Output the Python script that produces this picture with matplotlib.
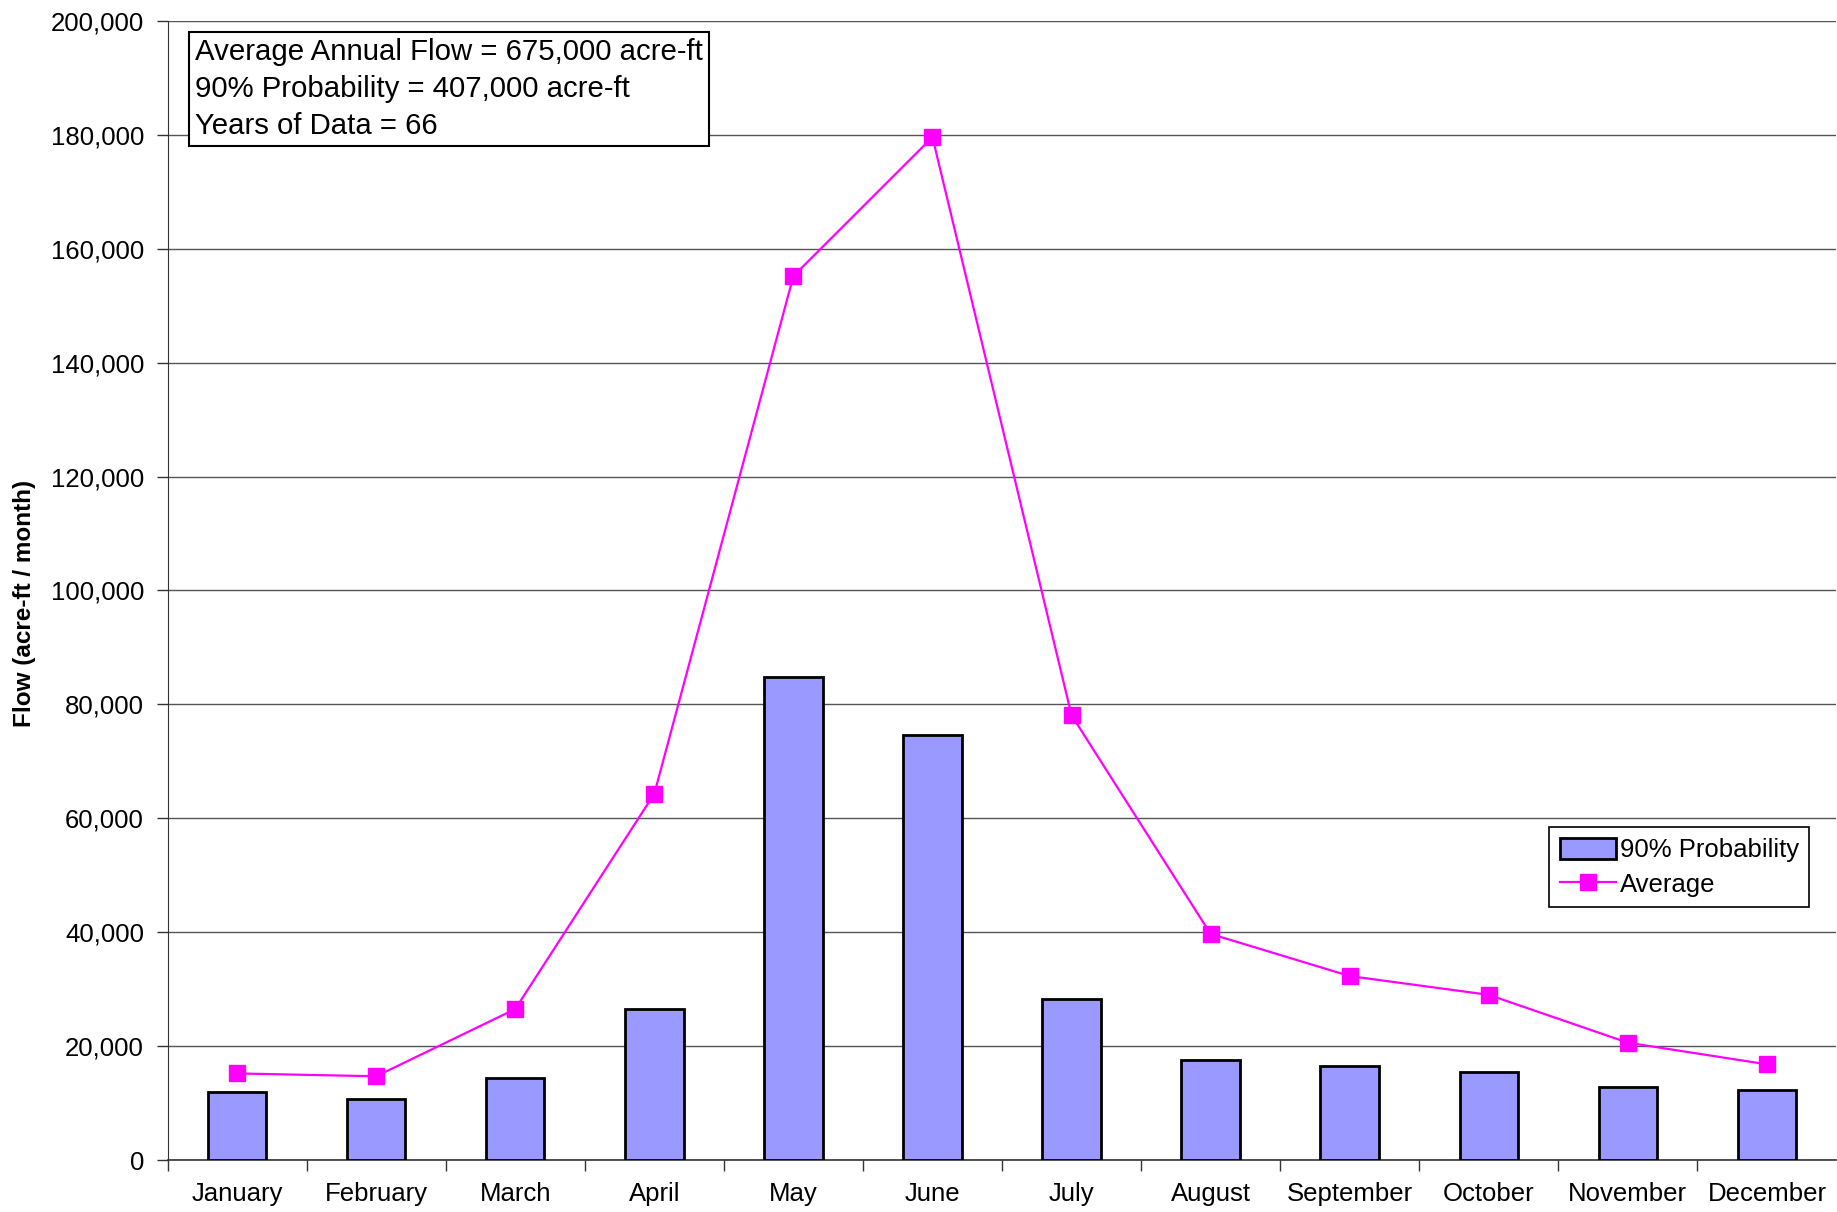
import numpy as np
import matplotlib.pyplot as plt
import matplotlib.ticker as ticker

months = ["January", "February", "March", "April", "May", "June", "July",
          "August", "September", "October", "November", "December"]
prob90 = [11900, 10700, 14400, 26500, 84800, 74700, 28200, 17500, 16500, 15400, 12800, 12300]
average = [15200, 14700, 26500, 64300, 155200, 179600, 78100, 39700, 32300, 29000, 20600, 16800]

info_lines = ["Average Annual Flow = 675,000 acre-ft",
              "90% Probability = 407,000 acre-ft",
              "Years of Data = 66"]


def main():
    plt.rcParams['font.family'] = ['Liberation Sans', 'DejaVu Sans']

    fig = plt.figure(figsize=(18.37, 12.12), dpi=100)
    ax = fig.add_axes([0.0912, 0.0429, 0.9085, 0.9398])

    x = np.arange(len(months))

    # bars + line
    bars = ax.bar(x, prob90, width=0.42, color='#9999FF', edgecolor='black',
                  linewidth=2.0, label='90% Probability', zorder=3)
    line, = ax.plot(x, average, color='#FF00FF', linewidth=1.6, marker='s',
                    markersize=11, label='Average', zorder=4)

    ax.set_xlim(-0.5, len(months) - 0.5)
    ax.set_ylim(0, 200000)

    # y axis
    ax.yaxis.set_major_locator(ticker.MultipleLocator(20000))
    ax.yaxis.set_major_formatter(ticker.FuncFormatter(lambda v, p: f"{int(v):,}"))
    ax.yaxis.grid(True, color='#555555', linewidth=1.0, zorder=0)
    ax.tick_params(axis='y', labelsize=18.5, length=8, width=1, color='#333333', pad=9)

    # x axis: ticks between categories (none at the right end), labels centred
    ax.set_xticks(np.arange(len(months)) - 0.5)
    ax.set_xticklabels([])
    ax.set_xticks(x, minor=True)
    ax.set_xticklabels(months, minor=True)
    ax.tick_params(axis='x', which='major', length=8, width=1, color='#333333')
    ax.tick_params(axis='x', which='minor', length=0, labelsize=18.5, pad=16)

    for side in ['top', 'right']:
        ax.spines[side].set_visible(False)
    ax.spines['left'].set_color('#333333')
    ax.spines['bottom'].set_color('#333333')
    ax.spines['bottom'].set_linewidth(1.2)

    ax.set_ylabel("Flow (acre-ft / month)", fontsize=17.5, fontweight='bold')
    ax.yaxis.set_label_coords(-0.079, 0.489)

    ax.text(0.0165, 0.985, "\n".join(info_lines), transform=ax.transAxes,
            fontsize=21.2, va='top', ha='left', linespacing=1.4, zorder=6,
            bbox=dict(boxstyle='square,pad=0.22', facecolor='white',
                      edgecolor='black', linewidth=1.5))

    leg = ax.legend([bars, line], ['90% Probability', 'Average'],
                    loc='upper left', bbox_to_anchor=(0.828, 0.292), fontsize=18.5,
                    fancybox=False, framealpha=1, edgecolor='black',
                    handlelength=2.2, handleheight=0.9, handletextpad=0.15,
                    borderpad=0.4, labelspacing=0.4, borderaxespad=0)
    leg.get_frame().set_linewidth(1.2)

    fig.savefig("out.png", dpi=100)


main()
